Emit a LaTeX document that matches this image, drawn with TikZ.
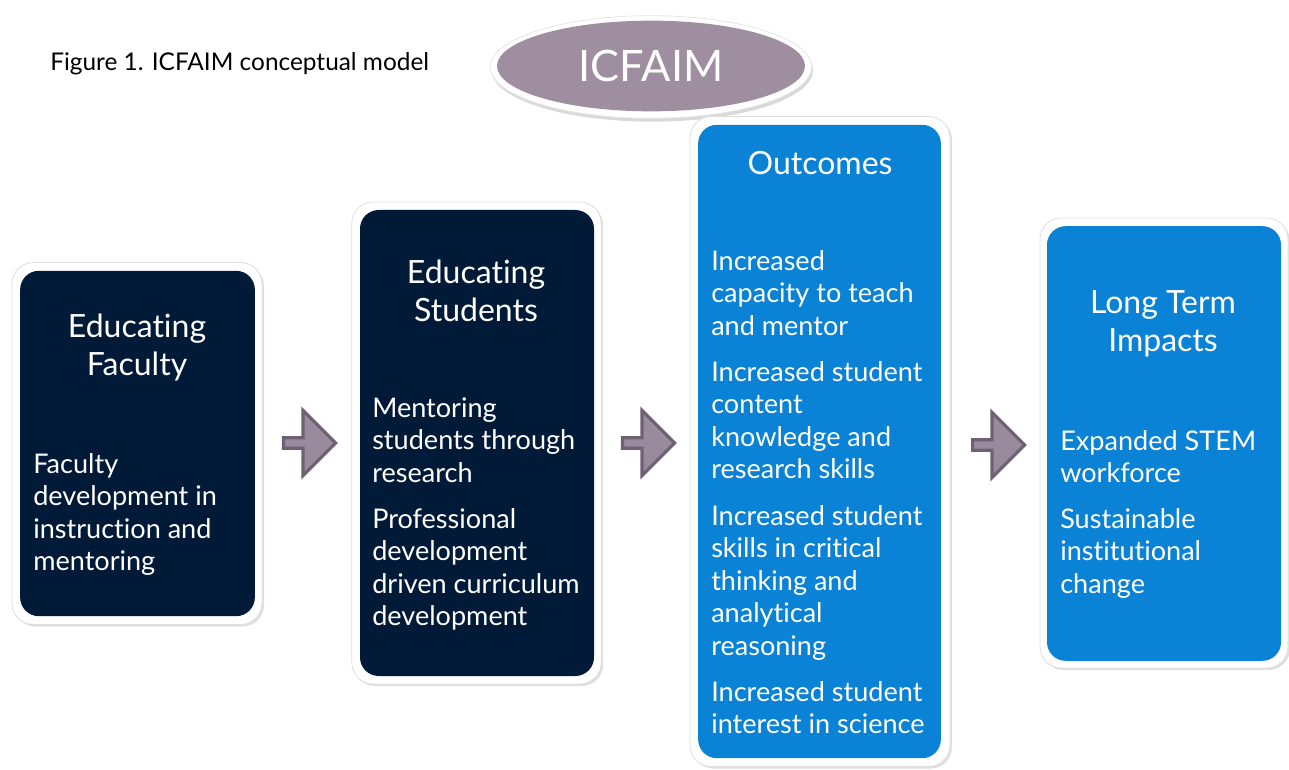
\documentclass[tikz,border=0pt]{standalone}
\usepackage{fontspec}
\setmainfont[Ligatures={NoCommon}]{Lato}
\usetikzlibrary{shapes.geometric,shapes.arrows,shadows}
\definecolor{navy}{HTML}{001A38}
\definecolor{ablue}{HTML}{0A82D6}
\definecolor{mauve}{HTML}{9E8EA0}
\definecolor{arrowfill}{HTML}{9A8A9E}
\definecolor{arrowdraw}{HTML}{6E6272}
\tikzset{
  frame/.style={draw=gray!25, line width=0.6pt, fill=white, rounded corners=16pt, inner sep=0pt, drop shadow={shadow xshift=1.5pt, shadow yshift=-1.5pt, opacity=0.25}},
  darkbox/.style={fill=navy, rounded corners=14pt, inner sep=0pt},
  bluebox/.style={fill=ablue, rounded corners=14pt, inner sep=0pt},
  title/.style={text=white, align=center, inner sep=0pt, font=\fontsize{24}{28.5}\selectfont},
  body/.style={text=white, align=left, inner sep=0pt, anchor=north west, font=\fontsize{20.3}{24.4}\selectfont},
  blockarrow/.style={single arrow, fill=arrowfill, draw=arrowdraw, line width=2.4pt, minimum height=39pt, single arrow head extend=9pt, minimum width=49pt, inner sep=0pt, shape border uses incircle},
}
\begin{document}
\begin{tikzpicture}[x=0.75pt,y=-0.75pt]
\useasboundingbox (0,0) rectangle (1289,770);
% caption
\node[anchor=west, inner sep=0pt, font=\fontsize{18.3}{21}\selectfont] (cap) at (50,64) {Figure 1. ICFAIM conceptual model};
% ellipse
\node[ellipse, fill=white, draw=gray!20, line width=0.6pt, minimum width=241pt, minimum height=77pt, inner sep=0pt,
  drop shadow={shadow xshift=1pt, shadow yshift=-2.5pt, opacity=0.3}] (icfo) at (651,67) {};
\node[ellipse, fill=mauve, minimum width=231pt, minimum height=68pt, inner sep=0pt,
  text=white, font=\fontsize{32.5}{36}\selectfont] (icf) at (651,66) {ICFAIM};
% frames
\node[frame, minimum width=187.5pt, minimum height=271.5pt] (f1) at (137,443.5) {};
\node[darkbox, minimum width=176pt, minimum height=259pt] (b1) at (137.5,443.5) {};
\node[frame, minimum width=187pt, minimum height=361.5pt] (f2) at (476.5,443) {};
\node[darkbox, minimum width=175.5pt, minimum height=349.5pt] (b2) at (477,443) {};
\node[frame, minimum width=195pt, minimum height=487.5pt] (f3) at (820,441.5) {};
\node[bluebox, minimum width=182pt, minimum height=475pt] (b3) at (819.5,441.5) {};
\node[frame, minimum width=186pt, minimum height=337.5pt] (f4) at (1164,443) {};
\node[bluebox, minimum width=175.5pt, minimum height=326pt] (b4) at (1164,443.5) {};
% arrows
\node[blockarrow] (a1) at (307,443) {};
\node[blockarrow] (a2) at (646,443) {};
\node[blockarrow] (a3) at (996,445) {};
% titles
\node[title] (t1) at (137,347) {Educating\\Faculty};
\node[title] (t2) at (476,291) {Educating\\Students};
\node[title] (t3) at (820,163) {Outcomes};
\node[title] (t4) at (1163,324) {Long Term\\Impacts};
% bodies
\node[body] (p1) at (33,453) {Faculty\\development in\\instruction and\\mentoring};
\node[body] (p2a) at (372,397) {Mentoring\\students through\\research};
\node[body] (p2b) at (372,508) {Professional\\development\\driven curriculum\\development};
\node[body] (p3a) at (711,250) {Increased\\capacity to teach\\and mentor};
\node[body] (p3b) at (711,361) {Increased student\\content\\knowledge and\\research skills};
\node[body] (p3c) at (711,505) {Increased student\\skills in critical\\thinking and\\analytical\\reasoning};
\node[body] (p3d) at (711,681) {Increased student\\interest in science};
\node[body] (p4a) at (1060,430) {Expanded STEM\\workforce};
\node[body] (p4b) at (1060,508) {Sustainable\\institutional\\change};
\end{tikzpicture}
\end{document}
